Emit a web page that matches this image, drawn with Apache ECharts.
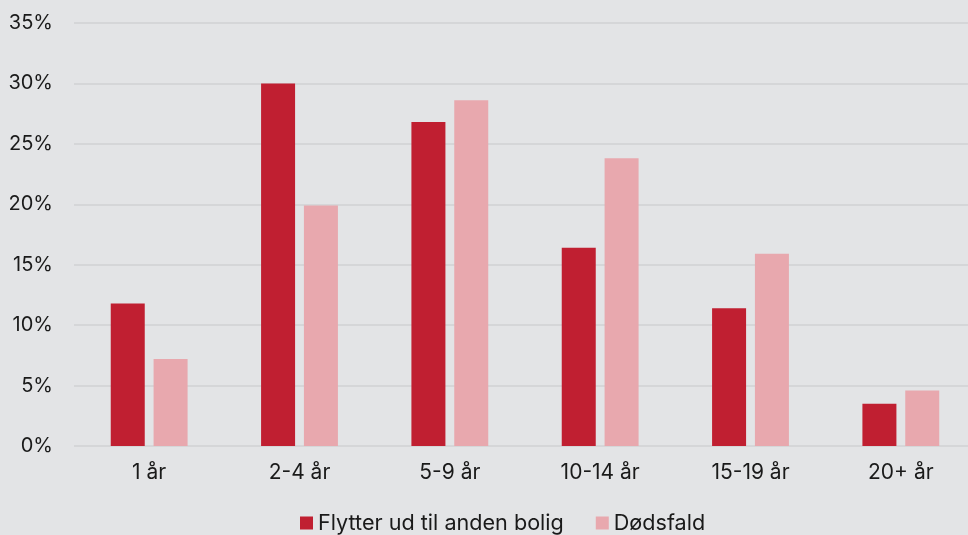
<!DOCTYPE html>
<html>
<head>
<meta charset="utf-8">
<script src="https://cdn.jsdelivr.net/npm/echarts@6/dist/echarts.min.js"></script>
<style>
  html, body { margin: 0; padding: 0; background: #e3e4e6; overflow: hidden; }
  #chart { width: 976px; height: 535px; }
</style>
</head>
<body>
<div id="chart"></div>
<script>
const categories = ['1 år', '2-4 år', '5-9 år', '10-14 år', '15-19 år', '20+ år']
const flytter = [11.8, 30.0, 26.8, 16.4, 11.4, 3.5]
const doedsfald = [7.2, 19.9, 28.6, 23.8, 15.9, 4.6]
const seriesNames = ['Flytter ud til anden bolig', 'Dødsfald']

// chart is 8px wider than the window so the last band runs off the edge, as in the source
const chart = echarts.init(document.getElementById('chart'))
chart.setOption({
  backgroundColor: '#e3e4e6',
  textStyle: { fontFamily: 'Inter' },
  color: ['#c01f31', '#e8a8ae'],
  animation: false,
  legend: {
    top: 507,
    left: 295,
    itemWidth: 13,
    itemHeight: 13,
    itemGap: 32,
    icon: 'rect',
    textStyle: { fontSize: 21.6, color: '#1a1a1a' },
    data: seriesNames
  },
  grid: {
    top: 23,
    left: 74,
    right: 0,
    bottom: 89
  },
  xAxis: {
    type: 'category',
    data: categories,
    axisLine: { show: false },
    axisTick: { show: false },
    axisLabel: { fontSize: 21, color: '#1a1a1a', margin: 16 }
  },
  yAxis: {
    type: 'value',
    min: 0,
    max: 35,
    interval: 5,
    axisLine: { show: false },
    axisTick: { show: false },
    splitLine: { lineStyle: { color: '#d5d6d8', width: 2 } },
    axisLabel: {
      fontSize: 20,
      color: '#1a1a1a',
      margin: 21,
      formatter: '{value}%'
    }
  },
  series: [
    {
      name: seriesNames[0],
      type: 'bar',
      data: flytter,
      barWidth: 34,
      barGap: '26%'
    },
    {
      name: seriesNames[1],
      type: 'bar',
      data: doedsfald,
      barWidth: 34,
      barGap: '26%'
    }
  ]
})
</script>
</body>
</html>
